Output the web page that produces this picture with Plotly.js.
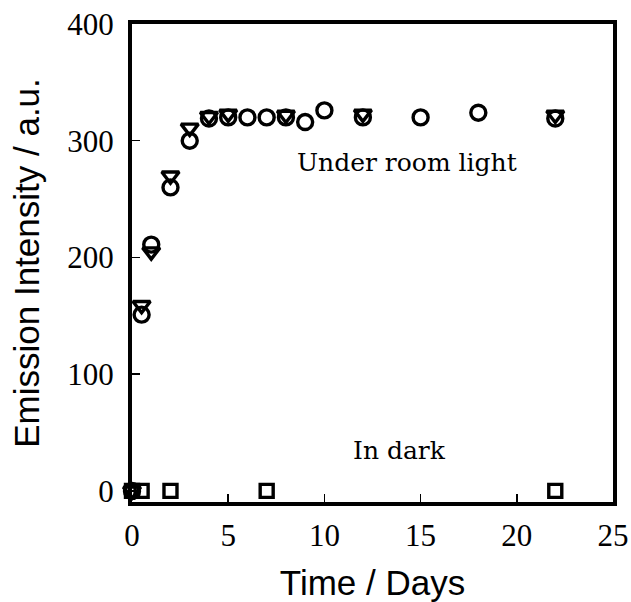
<!DOCTYPE html>
<html>
<head>
<meta charset="utf-8">
<script src="https://cdn.plot.ly/plotly-3.0.1.min.js"></script>
<style>html,body{margin:0;padding:0;background:#fff;}#chart{width:631px;height:602px;}</style>
</head>
<body>
<div id="chart"></div>
<script>
// Under room light, series 1 (circles)
var lightDaysA = [0, 0.5, 1, 2, 3, 4, 5, 6, 7, 8, 9, 10, 12, 15, 18, 22];
var lightIntA  = [0, 151, 211, 260, 300, 319, 320, 320, 320, 320, 316, 326, 320, 320, 324, 319];
// Under room light, series 2 (down triangles)
var lightDaysB = [0, 0.5, 1, 2, 3, 4, 5, 8, 12, 22];
var lightIntB  = [0, 159, 205, 270, 311, 321, 323, 322, 323, 322];
// In dark (squares)
var darkDays = [0, 0.5, 2, 7, 22];
var darkInt  = [0, 0, 0, 0, 0];

var xTicks = [0, 5, 10, 15, 20, 25];
var yTicks = [0, 100, 200, 300, 400];

var mk = function(sym, sz){ return {symbol: sym, size: sz, color: '#000', line: {color: '#000', width: 3.4}}; };

var traces = [
  {x: lightDaysA, y: lightIntA, mode: 'markers', type: 'scatter', marker: mk('circle-open', 15), cliponaxis: false},
  {x: lightDaysB, y: lightIntB, mode: 'markers', type: 'scatter', marker: mk('triangle-down-open', 15), cliponaxis: false},
  {x: darkDays, y: darkInt, mode: 'markers', type: 'scatter', marker: mk('square-open', 13), cliponaxis: false}
];

var axisCommon = {
  showgrid: false, zeroline: false, showline: true, linecolor: '#000', linewidth: 4, mirror: true,
  ticks: 'inside', ticklen: 8, tickwidth: 1.5, tickcolor: '#000'
};

var layout = {
  width: 631, height: 602,
  margin: {l: 132, r: 18, t: 24, b: 100},
  paper_bgcolor: '#fff', plot_bgcolor: '#fff',
  showlegend: false,
  xaxis: Object.assign({}, axisCommon, {
    range: [0, 25], tickvals: xTicks, ticktext: xTicks.map(String),
    tickfont: {family: 'Liberation Serif, Times New Roman, serif', size: 31, color: '#000'},
    ticklabelstandoff: 3,
    title: {text: 'Time / Days', font: {family: 'Liberation Sans, Arial, sans-serif', size: 35, color: '#000'}, standoff: 19}
  }),
  yaxis: Object.assign({}, axisCommon, {
    range: [-9.5, 400], tickvals: yTicks, ticktext: yTicks.map(String),
    tickfont: {family: 'Liberation Serif, Times New Roman, serif', size: 31, color: '#000'},
    ticklabelstandoff: 8,
    title: {text: 'Emission Intensity / a.u.', font: {family: 'Liberation Sans, Arial, sans-serif', size: 35, color: '#000'}, standoff: 18}
  }),
  annotations: [
    {x: 14.3, y: 281, xref: 'x', yref: 'y', text: 'Under room light', showarrow: false,
     font: {family: 'DejaVu Serif, Liberation Serif, serif', size: 25, color: '#000'}},
    {x: 13.9, y: 35, xref: 'x', yref: 'y', text: 'In dark', showarrow: false,
     font: {family: 'DejaVu Serif, Liberation Serif, serif', size: 25, color: '#000'}}
  ]
};

Plotly.newPlot('chart', traces, layout, {displayModeBar: false, staticPlot: true});
</script>
</body>
</html>
